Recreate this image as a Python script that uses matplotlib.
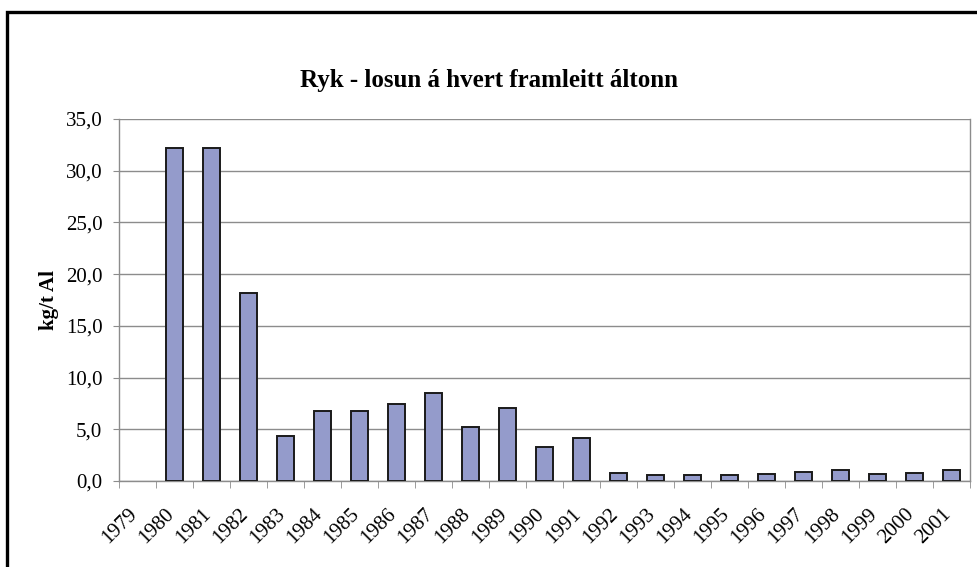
import matplotlib
matplotlib.use("Agg")
import matplotlib.pyplot as plt
import matplotlib.transforms as mtransforms
from matplotlib.patches import Rectangle
import numpy as np

years = [str(y) for y in range(1979, 2002)]
# 1979 has no value
dust = [np.nan, 32.2, 32.2, 18.2, 4.35, 6.8, 6.8, 7.4, 8.5, 5.2, 7.1, 3.3,
        4.2, 0.8, 0.55, 0.55, 0.55, 0.7, 0.9, 1.05, 0.7, 0.8, 1.05]
yticks = [0, 5, 10, 15, 20, 25, 30, 35]

plt.rcParams['font.family'] = ['Liberation Serif', 'DejaVu Serif']

fig = plt.figure(figsize=(9.78, 5.67), dpi=100, facecolor='white')
ax = fig.add_axes([119 / 978, 1 - 481 / 567, 851 / 978, 362 / 567])

x = np.arange(len(years))
ax.bar(x, dust, width=0.44, color='#949BCB', edgecolor='#1a1a1a',
       linewidth=1.4, zorder=3)

ax.set_xlim(-0.5, len(years) - 0.5)
ax.set_ylim(0, 35)
ax.set_yticks(yticks)
ax.set_yticklabels([('%.1f' % v).replace('.', ',') for v in yticks],
                   fontsize=15)
ax.yaxis.grid(True, color='#8c8c8c', linewidth=1.0, zorder=0)
ax.tick_params(axis='y', direction='out', length=4, color='#8c8c8c', pad=8)

# category labels at centers, tick marks at boundaries
ax.set_xticks(x)
ax.set_xticklabels(years, fontsize=15, rotation=45, ha='right', va='top',
                   rotation_mode='anchor')
ax.tick_params(axis='x', which='major', length=0, pad=17)
ax.set_xticks(np.arange(-0.5, len(years)), minor=True)
ax.tick_params(axis='x', which='minor', direction='out', length=5,
               color='#8c8c8c')
shift = mtransforms.ScaledTranslation(-10 / 100, 0, fig.dpi_scale_trans)
for lab in ax.get_xticklabels():
    lab.set_transform(lab.get_transform() + shift)

for side in ['left', 'bottom', 'right']:
    ax.spines[side].set_color('#8c8c8c')
    ax.spines[side].set_linewidth(1.0)
ax.spines['top'].set_visible(False)

ax.set_ylabel('kg/t Al', fontsize=15, fontweight='bold', labelpad=5)
fig.text(0.5, 1 - 81 / 567, 'Ryk - losun á hvert framleitt áltonn',
         fontsize=18, fontweight='bold', ha='center', va='center')

# outer chart frame (right/bottom edges fall outside the picture)
fig.patches.append(Rectangle((7 / 978, -0.05), 1.1, 1 - 12 / 567 + 0.05,
                             transform=fig.transFigure, fill=False,
                             edgecolor='black', linewidth=2.4))

fig.savefig('out.png', dpi=100, facecolor='white')
